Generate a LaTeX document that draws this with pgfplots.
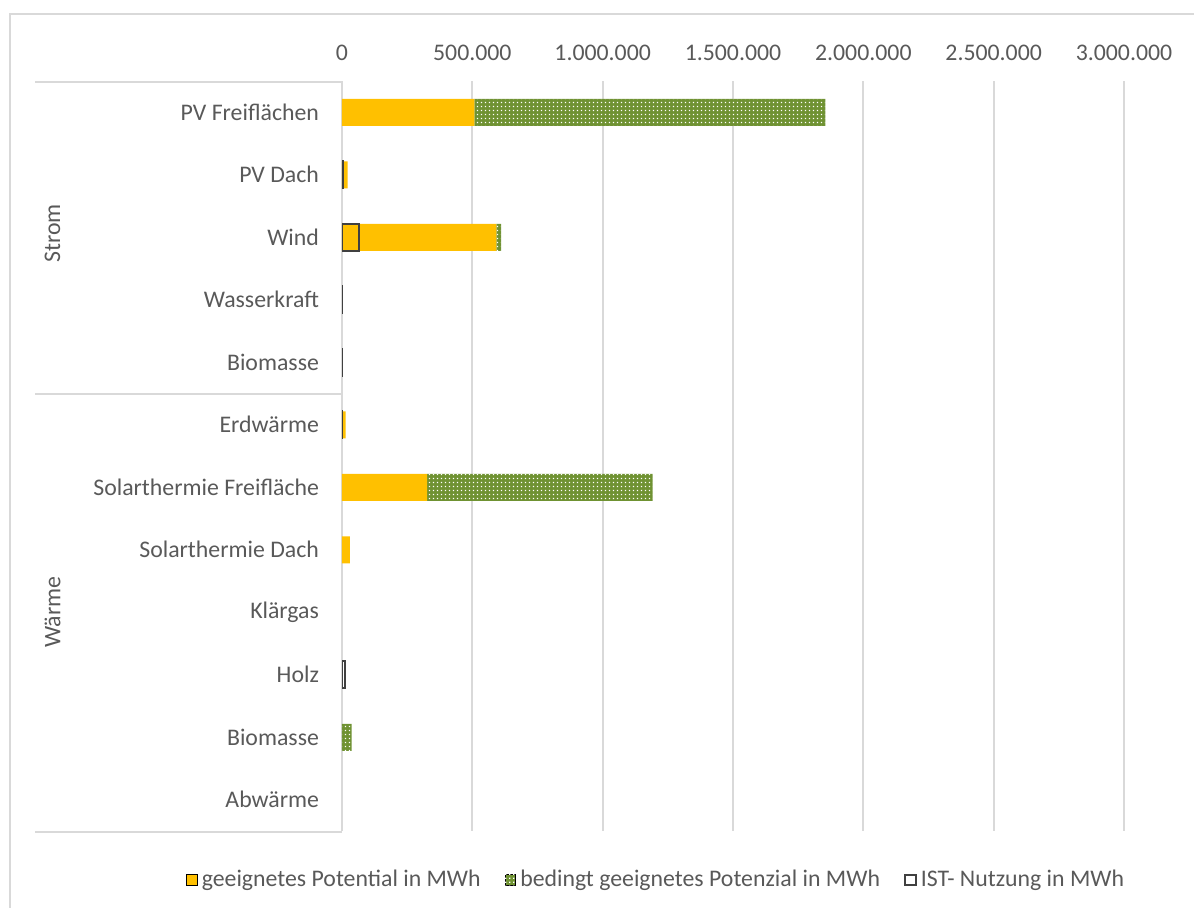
\documentclass[border=0pt]{standalone}
\usepackage{fontspec}
\setmainfont{Carlito}
\usepackage{pgfplots}
\usepackage{pgfplotstable}
\pgfplotsset{compat=1.18}
\usetikzlibrary{patterns}
\definecolor{gelb}{HTML}{FFC000}
\definecolor{gruen}{HTML}{6F9232}
\definecolor{txt}{HTML}{595959}
\definecolor{gridc}{HTML}{D9D9D9}
\definecolor{istc}{HTML}{404040}
\pgfdeclarepatternformonly{whitedots}{\pgfqpoint{0pt}{0pt}}{\pgfqpoint{2pt}{2pt}}{\pgfqpoint{2pt}{2pt}}{%
  \pgfpathrectangle{\pgfqpoint{0.6pt}{0.6pt}}{\pgfqpoint{0.8pt}{0.8pt}}\pgfusepath{fill}}
\pgfplotsset{sqlegend/.style={legend image code/.code={\draw[##1] (0pt,-2.7pt) rectangle (5.4pt,2.7pt);}}}
\newcommand{\lblfont}{\fontsize{11.9pt}{14pt}\selectfont}

% y: category index (0 = top), gee: geeignet, bed: bedingt geeignet
\pgfplotstableread{
y gee bed
0 508000 1346000
1 22000 0
2 592000 18000
3 0 0
4 0 0
5 14000 0
6 327000 865000
7 30000 0
8 0 0
9 0 0
10 0 37000
11 0 0
}\potdata

\pgfplotstableread{
y ist
1 4000
2 65000
3 1500
4 1500
5 1500
9 12000
}\istdata

\begin{document}
\begin{tikzpicture}
\path[use as bounding box] (0pt,0pt) rectangle (597pt,-454pt);
% chart border
\draw[gridc, line width=1pt] (5pt,-454pt) -- (5pt,-7pt) -- (597pt,-7pt);

\begin{axis}[
  at={(171pt,-40.5pt)}, anchor=north west,
  width=391pt, height=375pt, scale only axis,
  xbar stacked, bar width=13.5pt,
  xmin=0, xmax=3000000, ymin=-0.5, ymax=11.5, y dir=reverse,
  xtick={0,500000,1000000,1500000,2000000,2500000,3000000},
  scaled x ticks=false,
  xticklabel pos=upper,
  xticklabel style={font=\lblfont, text=txt, yshift=6.5pt,
    /pgf/number format/fixed, /pgf/number format/precision=0,
    /pgf/number format/1000 sep={.}, /pgf/number format/assume math mode=true},
  ytick={0,...,11},
  yticklabels={PV Freiflächen, PV Dach, Wind, Wasserkraft, Biomasse, Erdwärme,
    Solarthermie Freifläche, Solarthermie Dach, Klärgas, Holz, Biomasse, Abwärme},
  yticklabel style={font=\lblfont, text=txt, xshift=-8pt},
  major tick length=0pt,
  xmajorgrids, grid style={gridc, line width=1pt},
  axis line style={draw=none},
  legend columns=3,
  legend style={draw=none, fill=none, font=\lblfont, text=txt,
    at={(0.403,-0.0653)}, anchor=center,
    /tikz/every even column/.append style={column sep=10pt},
    /tikz/every odd column/.append style={column sep=0pt}},
  legend cell align=left,
]
\addplot[fill=gelb, draw=none, sqlegend] table[x=gee, y=y] {\potdata};
\addlegendentry{geeignetes Potential in MWh}
\addplot[fill=gruen, draw=none, postaction={pattern=whitedots, pattern color=white}, sqlegend] table[x=bed, y=y] {\potdata};
\addlegendentry{bedingt geeignetes Potenzial in MWh}
\addlegendimage{draw=istc, fill=white, line width=1pt, sqlegend}
\addlegendentry{IST- Nutzung in MWh}
\end{axis}

\begin{axis}[
  at={(171pt,-40.5pt)}, anchor=north west,
  width=391pt, height=375pt, scale only axis,
  hide axis,
  xbar, bar width=13.5pt, bar shift=0pt,
  xmin=0, xmax=3000000, ymin=-0.5, ymax=11.5, y dir=reverse,
]
\addplot[draw=istc, fill=none, line width=1.1pt] table[x=ist, y=y] {\istdata};
\end{axis}

% group separators
\draw[gridc, line width=1pt] (17.5pt,-41pt) -- (171pt,-41pt);
\draw[gridc, line width=1pt] (17.5pt,-197pt) -- (171pt,-197pt);
\draw[gridc, line width=1pt] (17.5pt,-416pt) -- (171pt,-416pt);
\node[rotate=90, text=txt, font=\lblfont] at (26.25pt,-116.75pt) {Strom};
\node[rotate=90, text=txt, font=\lblfont] at (26.25pt,-306pt) {Wärme};
\end{tikzpicture}
\end{document}
